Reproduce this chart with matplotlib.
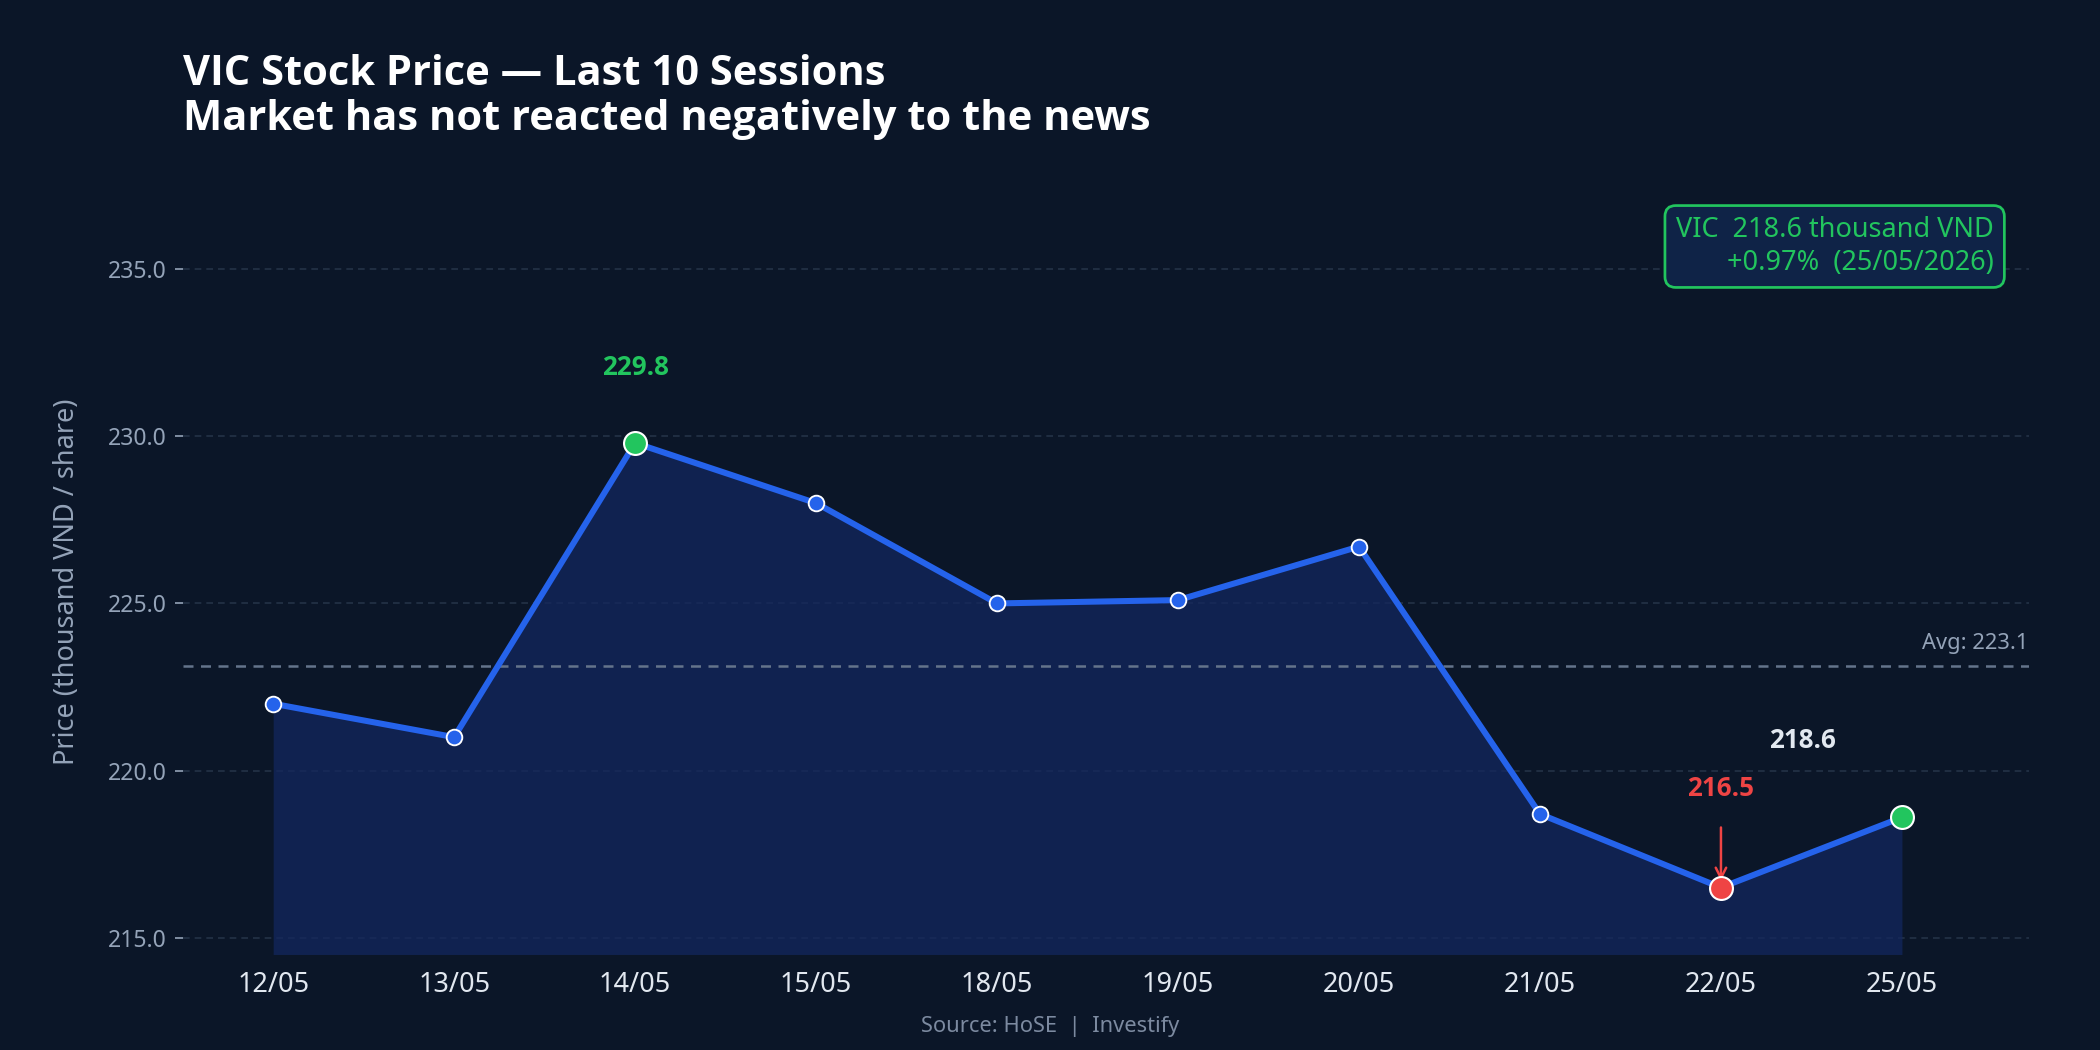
import matplotlib
matplotlib.use('Agg')
import matplotlib.pyplot as plt
import numpy as np

dates = ['12/05', '13/05', '14/05', '15/05', '18/05', '19/05', '20/05', '21/05', '22/05', '25/05']
prices = [222.0, 221.0, 229.8, 228.0, 225.0, 225.1, 226.7, 218.7, 216.5, 218.6]
yticks = [215.0, 220.0, 225.0, 230.0, 235.0]

bg = '#0b1628'
blue = '#2563eb'
green = '#22c55e'
red = '#ef4444'
grey = '#94a3b8'
boldfont = ['Open Sans', 'Noto Sans', 'DejaVu Sans']

plt.rcParams['font.family'] = ['Noto Sans', 'DejaVu Sans']

fig = plt.figure(figsize=(14, 7), dpi=150, facecolor=bg)
ax = fig.add_axes([0.087, 0.091, 0.879, 0.71])
ax.set_facecolor(bg)

x = np.arange(len(prices))
avg = np.mean(prices)
ybot = 214.5
ax.set_ylim(ybot, 236.8)
ax.set_xlim(-0.5, 9.7)

ax.fill_between(x, prices, ybot, color='#13275e', alpha=0.75, lw=0)
ax.plot(x, prices, color=blue, lw=2.9, zorder=3)
ax.plot(x, prices, 'o', color=blue, mec='white', mew=0.9, ms=7.5, zorder=4)

imax = int(np.argmax(prices))
imin = int(np.argmin(prices))
ilast = len(prices) - 1
ax.plot(x[imax], prices[imax], 'o', color=green, mec='white', mew=1, ms=11, zorder=5)
ax.plot(x[ilast], prices[ilast], 'o', color=green, mec='white', mew=1, ms=11, zorder=5)
ax.plot(x[imin], prices[imin], 'o', color=red, mec='white', mew=1, ms=11, zorder=5)

ax.text(x[imax], prices[imax] + 2.25, f'{prices[imax]:.1f}', color=green, fontsize=12.5,
        fontweight='bold', family=boldfont, ha='center', va='center')
ax.annotate(f'{prices[imin]:.1f}', xy=(x[imin], prices[imin] + 0.2),
            xytext=(x[imin], prices[imin] + 2.95), color=red, fontsize=12.5,
            fontweight='bold', family=boldfont, ha='center', va='center',
            arrowprops=dict(arrowstyle='->', color=red, lw=1.2, shrinkA=10, shrinkB=0))
ax.text(x[ilast] - 0.55, prices[ilast] + 2.3, f'{prices[ilast]:.1f}', color='#e2e8f0',
        fontsize=12.5, fontweight='bold', family=boldfont, ha='center', va='center')

ax.axhline(avg, color='#64748b', lw=1.2, ls=(0, (4, 3)), zorder=2)
ax.text(9.7, avg + 0.35, f'Avg: {avg:.1f}', color=grey, fontsize=10.5, ha='right', va='bottom')

ax.set_yticks(yticks)
ax.set_yticklabels([f'{v:.1f}' for v in yticks])
ax.set_xticks(x)
ax.set_xticklabels(dates)
ax.grid(axis='y', color='#243247', ls=(0, (4, 3)), lw=0.8)
ax.set_axisbelow(True)
for s in ax.spines.values():
    s.set_visible(False)
ax.tick_params(axis='y', colors=grey, labelsize=11, length=4, width=0.8)
ax.tick_params(axis='x', colors='#e2e8f0', labelsize=13, length=0, pad=8)
ax.set_ylabel('Price (thousand VND / share)', color=grey, fontsize=13, labelpad=13)

ax.text(0.981, 0.99, f'VIC  {prices[-1]:.1f} thousand VND\n+0.97%  (25/05/2026)',
        transform=ax.transAxes, ha='right', va='top', color=green, fontsize=13,
        bbox=dict(boxstyle='round,pad=0.4', facecolor='#0f2347', edgecolor=green, lw=1.3))

fig.text(0.087, 0.9075, 'VIC Stock Price — Last 10 Sessions\nMarket has not reacted negatively to the news',
         color='white', fontsize=20, fontweight='bold', family=boldfont,
         ha='left', va='center', linespacing=1.15)
fig.text(0.5, 0.022, 'Source: HoSE  |  Investify', color='#7c8aa0', fontsize=10.5,
         ha='center', va='center')

fig.savefig('out.png', dpi=150, facecolor=bg)
